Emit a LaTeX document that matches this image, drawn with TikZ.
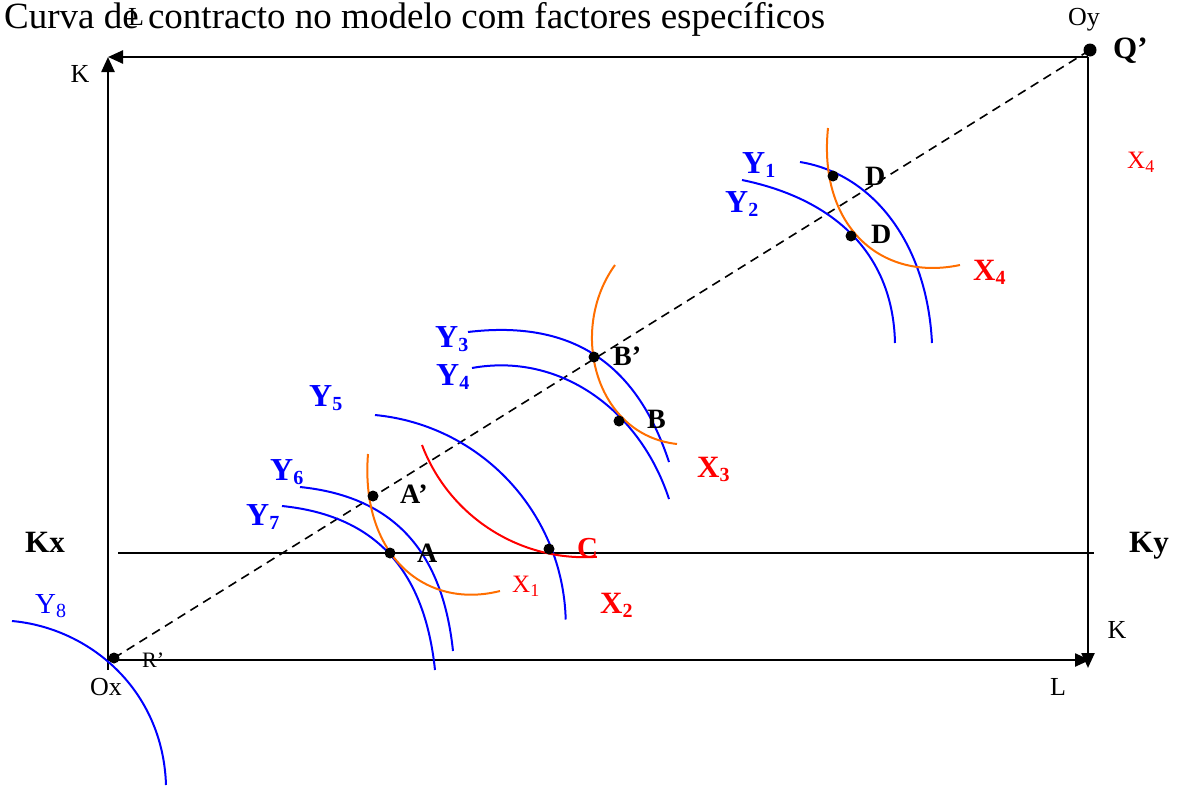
\documentclass[tikz,border=0pt]{standalone}
\usepackage{fontspec}
\setmainfont{Liberation Serif}
\usetikzlibrary{arrows.meta}
\definecolor{xblue}{RGB}{0,0,255}
\definecolor{xred}{RGB}{255,0,0}
\definecolor{xorange}{RGB}{255,110,0}
\newcommand{\fsz}[1]{\fontsize{#1}{#1}\selectfont}
\newcommand{\sbs}[2][20]{\raisebox{-4pt}{\fsz{#1}#2}}
\begin{document}
\begin{tikzpicture}[x=1pt,y=-1pt,
  axis/.style={line width=2.4pt,-{Triangle[length=15pt,width=13pt]}},
  ycurve/.style={xblue,line width=2pt},
  xcurve/.style={xorange,line width=2pt},
  rcurve/.style={xred,line width=2pt},
  dotn/.style={circle,fill=black,inner sep=0pt,minimum size=11pt},
  lbl/.style={anchor=base west,inner sep=0pt},
  small/.style={anchor=base,inner sep=0pt,font=\fsz{26}},
  ylab/.style={lbl,text=xblue,font=\fsz{32}\bfseries},
  ptlab/.style={lbl,font=\fsz{28}\bfseries},
  xlab/.style={lbl,text=xred,font=\fsz{31}\bfseries}]
\useasboundingbox (0,0) rectangle (1179,787);
% frame corners
\coordinate (Ox) at (108,660);
\coordinate (Oxb) at (108,670);
\coordinate (TL) at (108,57);
\coordinate (OyC) at (1088,57);
\coordinate (BR) at (1090,660);
\coordinate (BRd) at (1088,668);
\coordinate (Kxs) at (118,553);
\coordinate (Kye) at (1094,553);
% axes
\draw[axis] (Oxb) -- (TL);
\draw[axis] (OyC) -- (TL);
\draw[axis] (OyC) -- (BRd);
\draw[axis] (Ox) -- (BR);
\draw[line width=1.6pt] (Kxs) -- (Kye);
% dots on the diagonal ends
\node[dotn,minimum size=13pt] (Qd) at (1090,50) {};
\node[dotn] (Rd) at (114,658) {};
\draw[dash pattern=on 9pt off 6pt,line width=1.6pt] (Rd.center) -- (Qd.center);
% indifference curves / isoquants
\draw[ycurve] (800,162) .. controls (873,174) and (927,243) .. (932,343);
\draw[ycurve] (742,180) .. controls (830,198) and (893,250) .. (895,343);
\draw[xcurve] (828,128) .. controls (818,225) and (880,282) .. (960,265);
\draw[ycurve] (468,332) .. controls (577,319) and (638,368) .. (669,462);
\draw[ycurve] (472,368) .. controls (560,352) and (640,410) .. (669,499);
\draw[xcurve] (615,265) .. controls (568,330) and (595,435) .. (677,444);
\draw[ycurve] (375,415) arc[start angle=-84.5,end angle=-1.5,radius=211];
\draw[rcurve] (422,445) arc[start angle=159.2,end angle=86,radius=174];
\draw[ycurve] (300,487) .. controls (398,497) and (443,556) .. (453,651);
\draw[ycurve] (282,506) .. controls (380,516) and (425,575) .. (435,670);
\draw[xcurve] (368,454) .. controls (360,555) and (425,610) .. (500,591);
\draw[ycurve] (12,621) .. controls (90,628) and (163,690) .. (166,785);
% points
\node[dotn] (Ap) at (373,496) {};
\node[dotn] (A) at (390,553) {};
\node[dotn] (C) at (549,549) {};
\node[dotn] (Bp) at (594,357) {};
\node[dotn] (B) at (619,421) {};
\node[dotn] (D1) at (833,176) {};
\node[dotn] (D2) at (851,236) {};
% texts
\node[anchor=base west,inner sep=0pt,font=\fsz{37}] (title) at (4,28) {Curva de contracto no modelo com factores específicos};
\node[small] (Ltop) at (136,25) {L};
\node[small] (Kl) at (80,82) {K};
\node[small] (Oy) at (1084,25) {Oy};
\node[lbl,font=\fsz{31}\bfseries] (Qp) at (1113,58) {Q’};
\node[lbl,text=xred,font=\fsz{25}] (X4r) at (1127,168) {X\sbs[18]{4}};
\node[anchor=base,inner sep=0pt,font=\fsz{31}\bfseries] (Kx) at (45,552) {Kx};
\node[anchor=base,inner sep=0pt,font=\fsz{31}\bfseries] (Ky) at (1149,552) {Ky};
\node[small] (Kr) at (1117,638) {K};
\node[small] (Lb) at (1058,695) {L};
\node[small] (Oxl) at (106,695) {Ox};
\node[lbl,font=\fsz{22}] (Rp) at (142,667) {R’};
\node[lbl,text=xblue,font=\fsz{29}] (Y8) at (35,613) {Y\sbs{8}};
\node[ylab] (Y1) at (742,173) {Y\sbs{1}};
\node[ylab] (Y2) at (725,212) {Y\sbs{2}};
\node[ylab] (Y3) at (435,347) {Y\sbs{3}};
\node[ylab] (Y4) at (436,385) {Y\sbs{4}};
\node[ylab] (Y5) at (309,406) {Y\sbs{5}};
\node[ylab] (Y6) at (270,480) {Y\sbs{6}};
\node[ylab] (Y7) at (246,525) {Y\sbs{7}};
\node[ptlab] (D1l) at (865,185) {D};
\node[ptlab] (D2l) at (871,243) {D};
\node[xlab] (X4) at (973,280) {X\sbs{4}};
\node[ptlab] (Bpl) at (613,365) {B’};
\node[ptlab] (Bl) at (647,428) {B};
\node[xlab] (X3) at (697,477) {X\sbs{3}};
\node[ptlab] (Apl) at (400,503) {A’};
\node[ptlab] (Al) at (417,562) {A};
\node[lbl,text=xred,font=\fsz{29}\bfseries] (Cl) at (577,557) {C};
\node[lbl,text=xred,font=\fsz{25}] (X1) at (512,592) {X\sbs[18]{1}};
\node[xlab] (X2) at (600,613) {X\sbs{2}};
\end{tikzpicture}
\end{document}
